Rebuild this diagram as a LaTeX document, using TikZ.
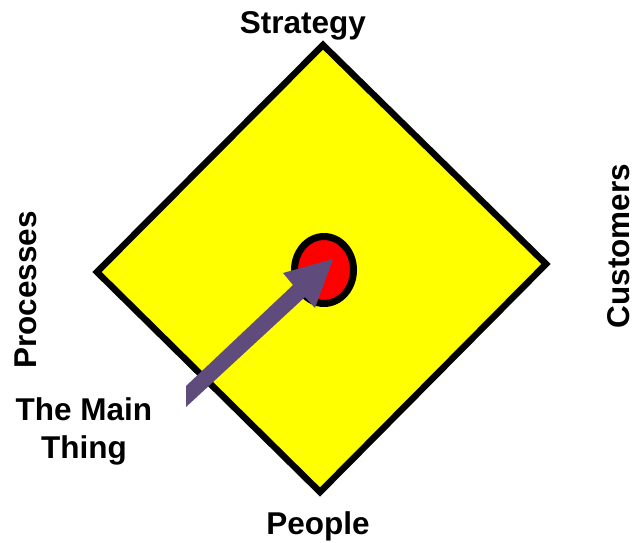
\documentclass[tikz,border=0pt]{standalone}
\usepackage{fontspec}
\setmainfont{Liberation Sans}
\definecolor{arrowpurple}{RGB}{96,76,124}
\definecolor{pureyellow}{RGB}{255,255,0}
\definecolor{purered}{RGB}{255,0,0}
\begin{document}
\begin{tikzpicture}[x=1pt,y=-1pt,
  lbl/.style={font=\fontsize{31.5}{34}\selectfont\bfseries, inner sep=0pt, anchor=base}]
\useasboundingbox (0,0) rectangle (633,542);
% diamond
\coordinate (top) at (323,45);
\coordinate (right) at (546,264);
\coordinate (bottom) at (320,492);
\coordinate (left) at (97,272);
\draw[line width=6.5pt, fill=pureyellow, line join=miter] (top) -- (right) -- (bottom) -- (left) -- cycle;
% center circle
\coordinate (ctr) at (324,270);
\draw[line width=7pt, fill=purered] (ctr) ellipse [x radius=29.5, y radius=33.5];
% block arrow
\coordinate (tailA) at (186,386);
\coordinate (tailB) at (186,407);
\coordinate (shA) at (293,285);
\coordinate (shB) at (305,297);
\coordinate (wingA) at (283,273);
\coordinate (wingB) at (315,308);
\coordinate (tip) at (333,259);
\fill[arrowpurple] (tailA) -- (shA) -- (wingA) -- (tip) -- (wingB) -- (shB) -- (tailB) -- cycle;
% labels
\node[lbl] (strategy) at (303,33) {Strategy};
\node[lbl] (people) at (318,534) {People};
\node[lbl] (main1) at (84,420) {The Main};
\node[lbl] (main2) at (84,458) {Thing};
\node[lbl, rotate=90] (processes) at (36,290) {Processes};
\node[lbl, rotate=90] (customers) at (629,246) {Customers};
\end{tikzpicture}
\end{document}
